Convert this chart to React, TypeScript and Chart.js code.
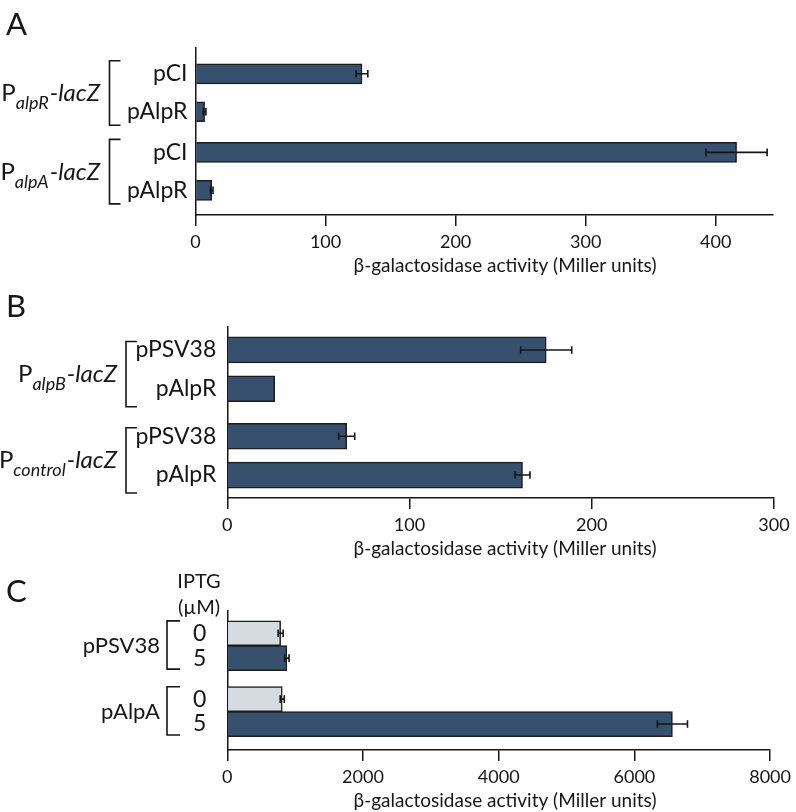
import React, { useEffect, useRef } from "react";
import { Chart, registerables } from "chart.js";

Chart.register(...registerables);

const FONT = "Lato";
const INK = "#161616";
const DARK = "#36506e";
const LIGHT = "#d6dbe2";
const X_TITLE = "β-galactosidase activity (Miller units)";

// ---------- Panel A ----------
const A_LABELS = ["pCI", "pAlpR", "pCI", "pAlpR"];
const A_GROUP_OF = [0, 0, 1, 1];
const A_GROUP_MAIN = ["P", "P"];
const A_GROUP_SUB = ["alpR", "alpA"];
const A_GROUP_TAIL = ["-lacZ", "-lacZ"];
const A_VALUES = [128, 7, 416, 12.5];
const A_ERRORS = [4.5, 1, 23.5, 1];
const A_TICKS = [0, 100, 200, 300, 400];
const A_MAX = 444;

// ---------- Panel B ----------
const B_LABELS = ["pPSV38", "pAlpR", "pPSV38", "pAlpR"];
const B_GROUP_OF = [0, 0, 1, 1];
const B_GROUP_MAIN = ["P", "P"];
const B_GROUP_SUB = ["alpB", "control"];
const B_GROUP_TAIL = ["-lacZ", "-lacZ"];
const B_VALUES = [175, 26, 65.5, 162];
const B_ERRORS = [14, 0, 4.4, 4.1];
const B_TICKS = [0, 100, 200, 300];
const B_MAX = 300;

// ---------- Panel C ----------
const C_LABELS = ["0", "5", "0", "5"]; // IPTG (µM)
const C_GROUP_OF = [0, 0, 1, 1];
const C_GROUP_MAIN = ["pPSV38", "pAlpA"];
const C_GROUP_SUB = ["", ""];
const C_GROUP_TAIL = ["", ""];
const C_VALUES = [786, 878, 810, 6560];
const C_ERRORS = [37, 32, 30, 222];
const C_TICKS = [0, 2000, 4000, 6000, 8000];
const C_MAX = 8000;

type Layout = {
  top: number;
  height: number;
  letter: string;
  letterBaseline: number;
  padTop: number;
  padRight: number;
  axisHeight: number;
  yWidth: number;
  gap: number;
  padStart: number;
  padEnd: number;
  barThickness: number;
  yTickFont: number;
  yTickPad: number;
  bracketX: number;
  bracketArm: number;
  bracketTopOff: number;
  bracketBotOff: number;
  groupRight: number;
  groupFont: number;
  subFont: number;
  extra?: { text: string; x: number; y: number; size: number }[];
};

type PanelData = {
  labels: string[];
  groupOf: number[];
  main: string[];
  sub: string[];
  tail: string[];
  values: number[];
  errors: number[];
  ticks: number[];
  max: number;
  colors: string[];
};

const LAYOUT_A: Layout = {
  top: 0, height: 290, letter: "A", letterBaseline: 35,
  padTop: 48, padRight: 23, axisHeight: 75, yWidth: 195.5,
  gap: 0.07, padStart: 0.68, padEnd: 0.65, barThickness: 20,
  yTickFont: 23, yTickPad: 8,
  bracketX: 109.5, bracketArm: 11, bracketTopOff: -13, bracketBotOff: 13.5,
  groupRight: 100, groupFont: 24, subFont: 18,
};

const LAYOUT_B: Layout = {
  top: 290, height: 270, letter: "B", letterBaseline: 27,
  padTop: 37, padRight: 22, axisHeight: 62, yWidth: 227.3,
  gap: 0.22, padStart: 0.59, padEnd: 0.59, barThickness: 26,
  yTickFont: 23, yTickPad: 11,
  bracketX: 126, bracketArm: 11, bracketTopOff: -8.5, bracketBotOff: 18,
  groupRight: 117, groupFont: 24, subFont: 18,
};

const LAYOUT_C: Layout = {
  top: 560, height: 252, letter: "C", letterBaseline: 42,
  padTop: 51, padRight: 22, axisHeight: 62, yWidth: 227.3,
  gap: 0.64, padStart: 0.89, padEnd: 1.04, barThickness: 25,
  yTickFont: 23, yTickPad: 21,
  bracketX: 167, bracketArm: 13, bracketTopOff: -12.3, bracketBotOff: 11,
  groupRight: 160, groupFont: 22, subFont: 18,
  extra: [
    { text: "IPTG", x: 199, y: 21.5, size: 20 },
    { text: "(µM)", x: 199, y: 47.5, size: 20 },
  ],
};

const DATA_A: PanelData = {
  labels: A_LABELS, groupOf: A_GROUP_OF, main: A_GROUP_MAIN, sub: A_GROUP_SUB, tail: A_GROUP_TAIL,
  values: A_VALUES, errors: A_ERRORS, ticks: A_TICKS, max: A_MAX,
  colors: A_VALUES.map(() => DARK),
};
const DATA_B: PanelData = {
  labels: B_LABELS, groupOf: B_GROUP_OF, main: B_GROUP_MAIN, sub: B_GROUP_SUB, tail: B_GROUP_TAIL,
  values: B_VALUES, errors: B_ERRORS, ticks: B_TICKS, max: B_MAX,
  colors: B_VALUES.map(() => DARK),
};
const DATA_C: PanelData = {
  labels: C_LABELS, groupOf: C_GROUP_OF, main: C_GROUP_MAIN, sub: C_GROUP_SUB, tail: C_GROUP_TAIL,
  values: C_VALUES, errors: C_ERRORS, ticks: C_TICKS, max: C_MAX,
  colors: C_LABELS.map((l) => (l === "0" ? LIGHT : DARK)),
};

function Panel({ layout, data }: { layout: Layout; data: PanelData }) {
  const ref = useRef<HTMLCanvasElement | null>(null);

  useEffect(() => {
    const canvas = ref.current;
    if (!canvas) return;
    const L = layout;
    const D = data;
    const pos = D.labels.map((_, i) => i + D.groupOf[i] * L.gap);

    const panelPlugin = {
      id: "panelDecor" + L.letter,
      afterDatasetsDraw(chart: any) {
        const ctx = chart.ctx;
        const xs = chart.scales.x;
        const meta = chart.getDatasetMeta(0);
        ctx.save();
        ctx.strokeStyle = INK;
        ctx.lineWidth = 1.6;
        meta.data.forEach((el: any, i: number) => {
          const e = D.errors[i];
          if (!e) return;
          const v = D.values[i];
          const x1 = xs.getPixelForValue(v - e);
          const x2 = xs.getPixelForValue(v + e);
          const y = el.y;
          const cap = 3.8;
          ctx.beginPath();
          ctx.moveTo(x1, y);
          ctx.lineTo(x2, y);
          ctx.moveTo(x1, y - cap);
          ctx.lineTo(x1, y + cap);
          ctx.moveTo(x2, y - cap);
          ctx.lineTo(x2, y + cap);
          ctx.stroke();
        });
        ctx.restore();
      },
      afterDraw(chart: any) {
        const ctx = chart.ctx;
        const ys = chart.scales.y;
        const area = chart.chartArea;
        ctx.save();
        ctx.fillStyle = INK;
        ctx.strokeStyle = INK;
        ctx.lineWidth = 1.6;

        // panel letter
        ctx.font = `31px ${FONT}`;
        ctx.textAlign = "left";
        ctx.textBaseline = "alphabetic";
        ctx.fillText(L.letter, 6, L.letterBaseline);

        // x axis title
        ctx.font = `19px ${FONT}`;
        ctx.textAlign = "center";
        ctx.textBaseline = "middle";
        ctx.fillText(X_TITLE, 505, area.bottom + 51);

        // brackets + group labels
        const groups = Array.from(new Set(D.groupOf));
        groups.forEach((g) => {
          const idx = D.groupOf.map((gg, i) => (gg === g ? i : -1)).filter((i) => i >= 0);
          const top = ys.getPixelForValue(pos[idx[0]]) + L.bracketTopOff;
          const bottom = ys.getPixelForValue(pos[idx[idx.length - 1]]) + L.bracketBotOff;
          const bx = L.bracketX;
          ctx.beginPath();
          ctx.moveTo(bx + L.bracketArm, top);
          ctx.lineTo(bx, top);
          ctx.lineTo(bx, bottom);
          ctx.lineTo(bx + L.bracketArm, bottom);
          ctx.stroke();

          const mid = (top + bottom) / 2;
          const base = mid + 8;
          const mainFont = `${L.groupFont}px ${FONT}`;
          const subFont = `italic ${L.subFont}px ${FONT}`;
          const tailFont = `italic ${L.groupFont}px ${FONT}`;
          const main = D.main[g];
          const sub = D.sub[g];
          const tail = D.tail[g];
          ctx.font = mainFont;
          const wMain = ctx.measureText(main).width;
          ctx.font = subFont;
          const wSub = sub ? ctx.measureText(sub).width + 1 : 0;
          ctx.font = tailFont;
          const wTail = tail ? ctx.measureText(tail).width : 0;
          let x = L.groupRight - (wMain + wSub + wTail);
          ctx.textAlign = "left";
          ctx.textBaseline = "alphabetic";
          ctx.font = mainFont;
          ctx.fillText(main, x, base);
          x += wMain;
          if (sub) {
            ctx.font = subFont;
            ctx.fillText(sub, x, base + 8);
            x += wSub;
          }
          if (tail) {
            ctx.font = tailFont;
            ctx.fillText(tail, x, base);
          }
        });

        // extra texts (IPTG header)
        (L.extra || []).forEach((t) => {
          ctx.font = `${t.size}px ${FONT}`;
          ctx.textAlign = "center";
          ctx.textBaseline = "middle";
          ctx.fillText(t.text, t.x, t.y);
        });
        ctx.restore();
      },
    };

    const chart = new Chart(canvas, {
      type: "bar",
      data: {
        labels: D.labels,
        datasets: [
          {
            data: D.values.map((v, i) => ({ x: v, y: pos[i] })) as any,
            backgroundColor: D.colors,
            borderColor: "#1c1c1c",
            borderWidth: 1.5,
            barThickness: L.barThickness,
          },
        ],
      },
      options: {
        indexAxis: "y",
        responsive: false,
        animation: false,
        events: [],
        layout: { padding: { top: L.padTop, right: L.padRight, left: 0, bottom: 0 } },
        plugins: {
          legend: { display: false },
          tooltip: { enabled: false },
          title: { display: false },
        },
        scales: {
          x: {
            type: "linear",
            min: 0,
            max: D.max,
            offset: false,
            afterBuildTicks: (ax: any) => {
              ax.ticks = D.ticks.map((v) => ({ value: v }));
            },
            afterFit: (ax: any) => {
              ax.height = L.axisHeight;
            },
            grid: {
              display: true,
              offset: false,
              drawOnChartArea: false,
              drawTicks: true,
              tickLength: 11,
              color: INK,
              lineWidth: 1.5,
            },
            border: { display: true, color: INK, width: 1.5 },
            ticks: {
              autoSkip: false,
              maxRotation: 0,
              padding: 5,
              color: INK,
              font: { family: FONT, size: 18 },
              callback: (v: any) => String(v),
            },
          },
          y: {
            type: "linear",
            reverse: true,
            offset: false,
            z: 1,
            min: -L.padStart,
            max: pos[pos.length - 1] + L.padEnd,
            afterBuildTicks: (ax: any) => {
              ax.ticks = pos.map((v) => ({ value: v }));
            },
            afterFit: (ax: any) => {
              ax.width = L.yWidth;
            },
            grid: { display: false, drawTicks: false, offset: false },
            border: { display: true, color: INK, width: 1.5 },
            ticks: {
              autoSkip: false,
              padding: L.yTickPad,
              color: INK,
              font: { family: FONT, size: L.yTickFont },
              callback: (_v: any, i: number) => D.labels[i],
            },
          },
        },
      } as any,
      plugins: [panelPlugin],
    });
    return () => chart.destroy();
  }, [layout, data]);

  return (
    <div style={{ position: "absolute", left: 0, top: layout.top, width: 796, height: layout.height }}>
      <canvas ref={ref} width={796} height={layout.height} style={{ display: "block" }} />
    </div>
  );
}

export default function App() {
  return (
    <div style={{ position: "absolute", left: 0, top: 0, width: 796, height: 812, background: "#ffffff" }}>
      <Panel layout={LAYOUT_A} data={DATA_A} />
      <Panel layout={LAYOUT_B} data={DATA_B} />
      <Panel layout={LAYOUT_C} data={DATA_C} />
    </div>
  );
}
